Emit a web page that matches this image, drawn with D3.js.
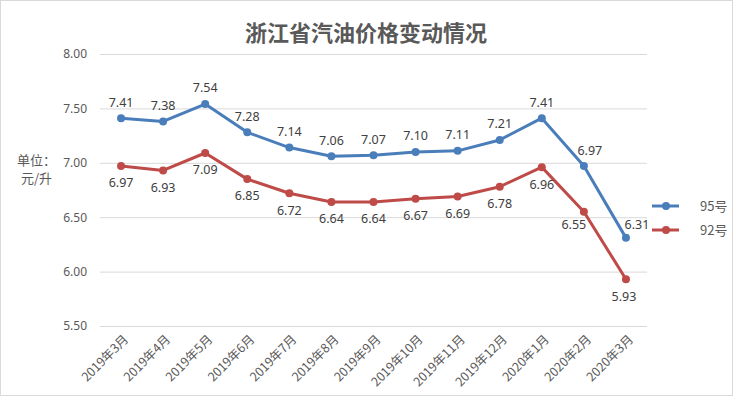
<!DOCTYPE html>
<html>
<head>
<meta charset="utf-8">
<script src="https://cdn.jsdelivr.net/npm/d3@7/dist/d3.min.js"></script>
<style>
  body { margin: 0; background: #fff; }
  text { font-family: "Noto Sans CJK SC", "Noto Sans", sans-serif; }
</style>
</head>
<body>
<div id="chart"></div>
<script>
// data
var months = ['2019年3月','2019年4月','2019年5月','2019年6月','2019年7月','2019年8月','2019年9月',
              '2019年10月','2019年11月','2019年12月','2020年1月','2020年2月','2020年3月'];
var price95 = [7.41,7.38,7.54,7.28,7.14,7.06,7.07,7.10,7.11,7.21,7.41,6.97,6.31];
var price92 = [6.97,6.93,7.09,6.85,6.72,6.64,6.64,6.67,6.69,6.78,6.96,6.55,5.93];
var yTicks = [5.5,6,6.5,7,7.5,8];
var seriesNames = ['95号','92号'];

var width = 733, height = 396;
var colors = ['#4a7ebb','#be4b48'];

var svg = d3.select('#chart').append('svg')
  .attr('width', width)
  .attr('height', height);

// outer border
svg.append('rect')
  .attr('x', 0.5).attr('y', 0.5)
  .attr('width', width - 1).attr('height', height - 1)
  .attr('fill', '#fff').attr('stroke', '#d9d9d9');

var x = d3.scaleBand().domain(months).range([100, 647]);
var y = d3.scaleLinear().domain([5.5, 8]).range([326, 54]);
function cx(d, i) { return x(months[i]) + x.bandwidth() / 2; }

// title
svg.append('text')
  .attr('x', 366).attr('y', 41)
  .attr('text-anchor', 'middle')
  .attr('font-size', 22).attr('font-weight', 'bold')
  .attr('fill', '#595959')
  .text('浙江省汽油价格变动情况');

// grid
svg.append('g').selectAll('line')
  .data(yTicks).enter().append('line')
  .attr('x1', 100).attr('x2', 647)
  .attr('y1', function(d) { return y(d) + 0.5; })
  .attr('y2', function(d) { return y(d) + 0.5; })
  .attr('stroke', '#d9d9d9');

// y axis labels
var yAxis = d3.axisLeft(y).tickValues(yTicks).tickFormat(d3.format('.2f')).tickSize(0).tickPadding(13);
var yg = svg.append('g').attr('transform', 'translate(100,0)').call(yAxis);
yg.select('.domain').remove();
yg.selectAll('text').attr('font-size', 12).attr('fill', '#595959')
  .style('font-family', '"Noto Sans", sans-serif');

// x axis labels
var xAxis = d3.axisBottom(x).tickSize(0).tickPadding(0);
var xg = svg.append('g').attr('transform', 'translate(0,326)').call(xAxis);
xg.select('.domain').remove();
xg.selectAll('text')
  .attr('font-size', 12.5).attr('fill', '#595959')
  .attr('text-anchor', 'end')
  .attr('transform', 'translate(5,11) rotate(-45)')
  .attr('dy', '0.35em');

// unit label
svg.append('text').attr('x', 17).attr('y', 165)
  .attr('font-size', 13).attr('fill', '#595959').text('单位：');
svg.append('text').attr('x', 21).attr('y', 183)
  .attr('font-size', 13).attr('fill', '#595959').text('元/升');

var line = d3.line()
  .x(function(d, i) { return cx(d, i); })
  .y(function(d) { return y(d); });

// label nudges (dx, dy from point) - default above for 95, below for 92
var labelShift = [
  { def: [0, -16], special: { 11: [6, -15], 12: [11, -13] } },
  { def: [0, 17], special: { 11: [-10, 13], 12: [-2, 17] } }
];

[price95, price92].forEach(function(vals, s) {
  var g = svg.append('g');
  g.append('path')
    .datum(vals)
    .attr('d', line)
    .attr('fill', 'none')
    .attr('stroke', colors[s])
    .attr('stroke-width', 3)
    .attr('stroke-linejoin', 'round');

  g.selectAll('circle')
    .data(vals).enter().append('circle')
    .attr('cx', cx)
    .attr('cy', function(d) { return y(d); })
    .attr('r', 4)
    .attr('fill', colors[s]);

  g.selectAll('text.lbl')
    .data(vals).enter().append('text')
    .attr('class', 'lbl')
    .attr('x', function(d, i) {
      var o = labelShift[s].special[i] || labelShift[s].def;
      return cx(d, i) + o[0];
    })
    .attr('y', function(d, i) {
      var o = labelShift[s].special[i] || labelShift[s].def;
      return y(d) + o[1];
    })
    .attr('dy', '0.35em')
    .attr('text-anchor', 'middle')
    .attr('font-size', 12.5)
    .attr('fill', '#404040')
    .style('font-family', '"Noto Sans", sans-serif')
    .text(function(d) { return d.toFixed(2); });
});

// legend
var legend = svg.append('g').selectAll('g')
  .data(seriesNames).enter().append('g')
  .attr('transform', function(d, i) { return 'translate(652,' + (206 + i * 24) + ')'; });
legend.append('line')
  .attr('x1', 0).attr('x2', 27)
  .attr('stroke', function(d, i) { return colors[i]; })
  .attr('stroke-width', 3);
legend.append('circle')
  .attr('cx', 14).attr('r', 4)
  .attr('fill', function(d, i) { return colors[i]; });
legend.append('text')
  .attr('x', 48).attr('dy', '0.35em')
  .attr('font-size', 13).attr('fill', '#595959')
  .text(function(d) { return d; });
</script>
</body>
</html>
